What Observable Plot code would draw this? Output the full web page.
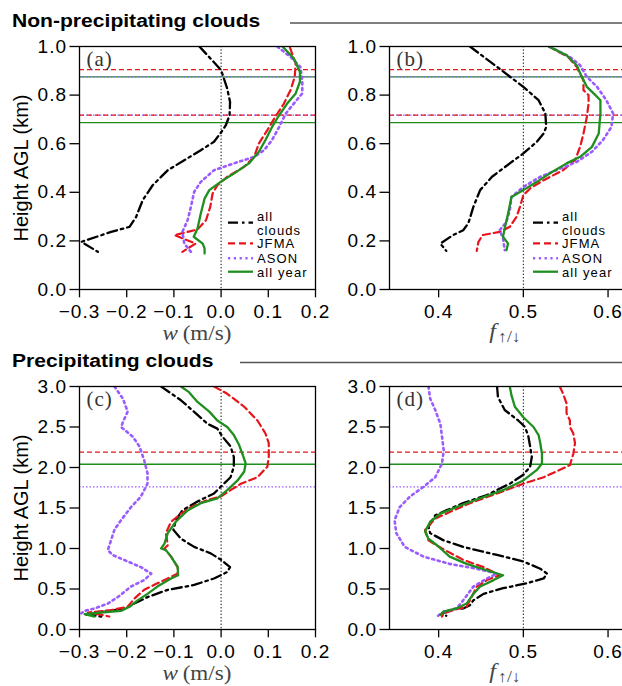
<!DOCTYPE html>
<html><head><meta charset="utf-8">
<script src="https://cdn.jsdelivr.net/npm/d3@7"></script>
<script src="https://cdn.jsdelivr.net/npm/@observablehq/plot@0.6"></script>
<style>
body{margin:0;background:#fff;}
#root{position:relative;width:622px;height:686px;overflow:hidden;background:#fff;}
#root > svg{position:absolute;}
</style></head><body><div id="root"></div>
<script>
// ---------------- DATA ----------------
const seriesNames = ["all clouds", "JFMA", "ASON", "all year"];

// Non-precipitating, vertical velocity w (m/s) vs height (km): [w, h]
const a_all = [[-0.046,1.0],[0.0,0.903],[0.013,0.827],[0.019,0.772],[0.018,0.717],[0.010,0.676],[0.001,0.649],[-0.015,0.608],[-0.043,0.573],[-0.078,0.532],[-0.113,0.491],[-0.145,0.429],[-0.166,0.368],[-0.180,0.299],[-0.194,0.258],[-0.233,0.237],[-0.296,0.196],[-0.261,0.155]];
const a_jfma = [[0.146,0.995],[0.158,0.930],[0.156,0.875],[0.147,0.820],[0.133,0.765],[0.115,0.711],[0.098,0.656],[0.080,0.601],[0.070,0.546],[0.049,0.505],[0.013,0.464],[-0.008,0.429],[-0.018,0.395],[-0.023,0.340],[-0.032,0.285],[-0.050,0.247],[-0.099,0.224],[-0.054,0.189],[-0.082,0.155]];
const a_ason = [[0.119,1.0],[0.147,0.957],[0.168,0.916],[0.172,0.861],[0.172,0.807],[0.154,0.765],[0.137,0.724],[0.123,0.669],[0.108,0.615],[0.091,0.573],[0.070,0.546],[0.027,0.519],[-0.015,0.491],[-0.043,0.443],[-0.057,0.402],[-0.064,0.340],[-0.071,0.285],[-0.082,0.237],[-0.078,0.189],[-0.064,0.155]];
const a_year = [[0.130,1.0],[0.154,0.951],[0.167,0.896],[0.167,0.855],[0.158,0.807],[0.140,0.765],[0.123,0.717],[0.108,0.669],[0.094,0.615],[0.080,0.567],[0.059,0.519],[0.027,0.477],[-0.001,0.443],[-0.025,0.409],[-0.035,0.374],[-0.043,0.313],[-0.050,0.251],[-0.058,0.217],[-0.039,0.189],[-0.035,0.169],[-0.035,0.148]];

// Non-precipitating, fraction f up/down vs height (km): [f, h]
const b_all = [[0.437,1.0],[0.469,0.916],[0.500,0.834],[0.518,0.779],[0.526,0.724],[0.527,0.669],[0.524,0.642],[0.516,0.608],[0.500,0.560],[0.484,0.519],[0.463,0.464],[0.449,0.409],[0.441,0.340],[0.435,0.272],[0.429,0.244],[0.417,0.224],[0.402,0.189],[0.409,0.159]];
const b_jfma = [[0.530,1.0],[0.553,0.957],[0.563,0.916],[0.571,0.861],[0.571,0.820],[0.577,0.800],[0.577,0.765],[0.575,0.711],[0.571,0.642],[0.567,0.587],[0.561,0.532],[0.547,0.491],[0.524,0.450],[0.508,0.416],[0.500,0.388],[0.496,0.340],[0.492,0.299],[0.484,0.258],[0.472,0.237],[0.452,0.224],[0.447,0.196],[0.445,0.159]];
const b_ason = [[0.531,1.0],[0.555,0.957],[0.567,0.923],[0.575,0.875],[0.587,0.834],[0.598,0.779],[0.606,0.724],[0.604,0.669],[0.594,0.615],[0.581,0.567],[0.563,0.525],[0.539,0.491],[0.520,0.464],[0.500,0.422],[0.486,0.381],[0.484,0.326],[0.480,0.278],[0.472,0.244],[0.476,0.210],[0.478,0.162]];
const b_year = [[0.530,1.0],[0.551,0.964],[0.563,0.923],[0.569,0.875],[0.575,0.834],[0.583,0.807],[0.591,0.779],[0.591,0.724],[0.589,0.642],[0.581,0.587],[0.567,0.546],[0.551,0.519],[0.531,0.477],[0.516,0.443],[0.500,0.409],[0.486,0.381],[0.482,0.313],[0.478,0.251],[0.476,0.217],[0.482,0.189],[0.480,0.162]];

// Precipitating, w (m/s) vs height (km)
const c_all = [[-0.127,3.0],[-0.085,2.83],[-0.050,2.65],[-0.029,2.54],[-0.008,2.48],[0.003,2.38],[0.020,2.26],[0.027,2.13],[0.027,2.01],[0.020,1.88],[0.006,1.80],[-0.015,1.68],[-0.050,1.58],[-0.082,1.47],[-0.096,1.35],[-0.101,1.23],[-0.085,1.12],[-0.057,1.02],[-0.022,0.94],[0.0,0.86],[0.019,0.77],[0.013,0.71],[-0.015,0.63],[-0.057,0.55],[-0.113,0.49],[-0.156,0.40],[-0.184,0.32],[-0.205,0.26],[-0.247,0.22],[-0.289,0.19],[-0.254,0.16]];
const c_jfma = [[-0.015,3.0],[0.013,2.91],[0.049,2.75],[0.077,2.58],[0.094,2.42],[0.101,2.30],[0.101,2.13],[0.098,2.01],[0.077,1.88],[0.042,1.80],[0.020,1.72],[-0.001,1.64],[-0.029,1.60],[-0.064,1.51],[-0.085,1.43],[-0.106,1.33],[-0.117,1.19],[-0.113,1.04],[-0.120,1.00],[-0.106,0.90],[-0.092,0.77],[-0.092,0.69],[-0.106,0.65],[-0.135,0.57],[-0.163,0.49],[-0.184,0.38],[-0.198,0.28],[-0.233,0.24],[-0.282,0.21],[-0.261,0.19],[-0.237,0.16]];
const c_ason = [[-0.226,3.0],[-0.208,2.85],[-0.198,2.69],[-0.208,2.56],[-0.212,2.50],[-0.187,2.38],[-0.173,2.26],[-0.163,2.09],[-0.156,1.93],[-0.156,1.80],[-0.170,1.64],[-0.191,1.51],[-0.212,1.35],[-0.226,1.23],[-0.240,0.98],[-0.230,0.92],[-0.198,0.84],[-0.170,0.77],[-0.148,0.69],[-0.163,0.61],[-0.191,0.53],[-0.219,0.40],[-0.240,0.32],[-0.268,0.26],[-0.289,0.23],[-0.296,0.20]];
const c_year = [[-0.085,3.0],[-0.068,2.93],[-0.050,2.81],[-0.025,2.69],[-0.008,2.58],[0.013,2.50],[0.027,2.40],[0.038,2.28],[0.045,2.17],[0.052,2.05],[0.049,1.95],[0.035,1.84],[0.013,1.72],[-0.008,1.62],[-0.043,1.56],[-0.071,1.47],[-0.096,1.33],[-0.113,1.19],[-0.120,1.06],[-0.127,1.00],[-0.117,0.98],[-0.106,0.90],[-0.092,0.77],[-0.091,0.67],[-0.106,0.63],[-0.135,0.53],[-0.156,0.44],[-0.177,0.36],[-0.194,0.28],[-0.212,0.23],[-0.254,0.21],[-0.289,0.19],[-0.268,0.16]];

// Precipitating, f up/down vs height (km)
const d_all = [[0.469,3.0],[0.470,2.87],[0.478,2.71],[0.494,2.58],[0.502,2.50],[0.506,2.38],[0.508,2.26],[0.510,2.13],[0.508,2.01],[0.500,1.91],[0.484,1.80],[0.457,1.66],[0.429,1.56],[0.409,1.47],[0.396,1.41],[0.388,1.27],[0.390,1.19],[0.406,1.10],[0.429,1.02],[0.469,0.92],[0.500,0.84],[0.520,0.75],[0.528,0.69],[0.524,0.63],[0.504,0.57],[0.476,0.51],[0.453,0.44],[0.441,0.36],[0.437,0.30],[0.429,0.26],[0.417,0.25],[0.404,0.20],[0.409,0.17]];
const d_jfma = [[0.543,3.0],[0.547,2.91],[0.551,2.79],[0.551,2.67],[0.555,2.58],[0.555,2.50],[0.559,2.42],[0.561,2.30],[0.559,2.17],[0.555,2.03],[0.547,1.99],[0.524,1.88],[0.500,1.80],[0.469,1.68],[0.437,1.56],[0.413,1.45],[0.396,1.37],[0.384,1.23],[0.388,1.10],[0.404,1.00],[0.429,0.86],[0.453,0.77],[0.472,0.67],[0.457,0.61],[0.445,0.53],[0.437,0.36],[0.433,0.28],[0.421,0.25],[0.406,0.20],[0.404,0.16]];
const d_ason = [[0.388,3.0],[0.390,2.85],[0.396,2.71],[0.402,2.54],[0.404,2.38],[0.406,2.21],[0.404,2.05],[0.396,1.88],[0.382,1.76],[0.366,1.64],[0.354,1.51],[0.348,1.35],[0.350,1.19],[0.360,1.02],[0.382,0.90],[0.413,0.81],[0.445,0.75],[0.469,0.69],[0.457,0.63],[0.441,0.53],[0.429,0.36],[0.421,0.26],[0.406,0.22],[0.398,0.16]];
const d_year = [[0.484,3.0],[0.486,2.89],[0.490,2.75],[0.500,2.62],[0.512,2.50],[0.518,2.40],[0.520,2.30],[0.522,2.17],[0.522,2.05],[0.516,1.97],[0.500,1.84],[0.476,1.72],[0.449,1.62],[0.421,1.51],[0.402,1.43],[0.390,1.33],[0.384,1.21],[0.388,1.12],[0.398,1.04],[0.413,0.90],[0.433,0.81],[0.457,0.73],[0.476,0.67],[0.465,0.61],[0.449,0.53],[0.441,0.44],[0.433,0.32],[0.421,0.26],[0.406,0.22],[0.402,0.18]];

// Reference heights (km) per season
const np_jfmaLevels = [0.905, 0.718];
const np_asonLevels = [0.875, 0.718];
const np_yearLevels = [0.875, 0.687];
const p_jfmaLevels = [2.19];
const p_asonLevels = [1.76];
const p_yearLevels = [2.04];

// Tick values
const wTicks = [-0.3, -0.2, -0.1, 0.0, 0.1, 0.2];
const fTicks = [0.4, 0.5, 0.6];
const hTicksNP = [0, 0.2, 0.4, 0.6, 0.8, 1.0];
const hTicksP = [0, 0.5, 1.0, 1.5, 2.0, 2.5, 3.0];

// ---------------- STYLES ----------------
const colors = ["#000000", "#e8141c", "#9b5cff", "#1f8f1f"];
const dashes = ["10,4,2.5,4", "7,4", "2.2,3.6", null];
const widths = [2.3, 2.2, 2.6, 2.3];
const sansFont = "'Liberation Sans', Arial, sans-serif";
const serifFont = "'Liberation Serif', 'DejaVu Serif', serif";

const root = d3.select("#root");

function panel({series, xDomain, xTicks, xRef, yDomain, yTicks, jfma, ason, year, letter, left, top}) {
  const fmt = d3.format(".1f");
  const toObj = arr => arr.map(([x, h]) => ({x, h}));
  const marks = [
    Plot.ruleX([xRef], {stroke: "black", strokeWidth: 1, strokeDasharray: "1.3,2"}),
    Plot.ruleY(year, {stroke: colors[3], strokeWidth: 1.3}),
    Plot.ruleY(ason, {stroke: colors[2], strokeWidth: 1.3, strokeDasharray: "1.5,2"}),
    Plot.ruleY(jfma, {stroke: colors[1], strokeWidth: 1.3, strokeDasharray: "5,3"}),
  ];
  series.forEach((s, i) => {
    const o = {x: "x", y: "h", stroke: colors[i], strokeWidth: widths[i], strokeLinejoin: "round", clip: true};
    if (dashes[i]) o.strokeDasharray = dashes[i];
    marks.push(Plot.line(toObj(s), o));
  });
  marks.push(
    Plot.frame({stroke: "black", strokeWidth: 1.3}),
    Plot.axisX({ticks: xTicks, tickFormat: fmt, tickSize: 8.3, tickPadding: 7, label: null, strokeWidth: 1.3}),
    Plot.axisY({ticks: yTicks, tickFormat: fmt, tickSize: 9.5, tickPadding: 3, label: null, strokeWidth: 1.3}),
    Plot.text([letter], {frameAnchor: "top-left", dx: 7, dy: 5, lineAnchor: "top", textAnchor: "start",
      fontFamily: serifFont, fontSize: 21, fill: "#333", text: d => d})
  );
  const svg = Plot.plot({
    width: 316, height: 345,
    marginLeft: 79, marginRight: 1, marginTop: 46, marginBottom: 56,
    x: {domain: xDomain},
    y: {domain: yDomain},
    style: {background: "none", overflow: "visible", fontFamily: sansFont, fontSize: "19px", letterSpacing: "1px", color: "black"},
    marks
  });
  svg.style.position = "absolute";
  svg.style.left = left + "px";
  svg.style.top = top + "px";
  root.node().appendChild(svg);
}

panel({series: [a_all, a_jfma, a_ason, a_year], xDomain: [-0.3, 0.2], xTicks: wTicks, xRef: 0,
  yDomain: [0, 1], yTicks: hTicksNP, jfma: np_jfmaLevels, ason: np_asonLevels, year: np_yearLevels, letter: "(a)", left: 0, top: 0});
panel({series: [b_all, b_jfma, b_ason, b_year], xDomain: [0.342, 0.6206], xTicks: fTicks, xRef: 0.5,
  yDomain: [0, 1], yTicks: hTicksNP, jfma: np_jfmaLevels, ason: np_asonLevels, year: np_yearLevels, letter: "(b)", left: 310, top: 0});
panel({series: [c_all, c_jfma, c_ason, c_year], xDomain: [-0.3, 0.2], xTicks: wTicks, xRef: 0,
  yDomain: [0, 3], yTicks: hTicksP, jfma: p_jfmaLevels, ason: p_asonLevels, year: p_yearLevels, letter: "(c)", left: 0, top: 340});
panel({series: [d_all, d_jfma, d_ason, d_year], xDomain: [0.342, 0.6206], xTicks: fTicks, xRef: 0.5,
  yDomain: [0, 3], yTicks: hTicksP, jfma: p_jfmaLevels, ason: p_asonLevels, year: p_yearLevels, letter: "(d)", left: 310, top: 340});

// ---------------- OVERLAY: titles, axis labels, legends ----------------
const ov = root.append("svg").attr("width", 622).attr("height", 686)
  .style("left", "0px").style("top", "0px").style("pointer-events", "none");

function title(txt, y, lineStart) {
  ov.append("text").attr("transform", `translate(12,${y}) scale(1.11,1)`)
    .attr("font-family", sansFont).attr("font-weight", "bold").attr("font-size", 19).text(txt);
  ov.append("line").attr("x1", lineStart).attr("x2", 622).attr("y1", y - 4.3).attr("y2", y - 4.3)
    .attr("stroke", "#555").attr("stroke-width", 1.5);
}
title("Non-precipitating clouds", 27.3, 290);
title("Precipitating clouds", 366.7, 240);

[168, 508].forEach(cy => {
  ov.append("text").attr("transform", `translate(28,${cy}) rotate(-90)`).attr("text-anchor", "middle")
    .attr("font-family", sansFont).attr("font-size", 20).text("Height AGL (km)");
});

function wLabel(cx, y) {
  const t = ov.append("text").attr("transform", `translate(${cx},${y}) scale(1.1,1)`).attr("text-anchor", "middle")
    .attr("font-family", serifFont).attr("font-size", 21).attr("fill", "#444");
  t.append("tspan").attr("font-style", "italic").text("w");
  t.append("tspan").text("\u2009(m/s)");
}
function fLabel(cx, y) {
  const t = ov.append("text").attr("transform", `translate(${cx},${y}) scale(1.1,1)`).attr("text-anchor", "middle")
    .attr("font-family", serifFont).attr("font-size", 22).attr("fill", "#444");
  t.append("tspan").attr("font-style", "italic").text("f");
  t.append("tspan").attr("font-size", 16).attr("dy", 4).attr("dx", 2).text("\u2191/\u2193");
}
wLabel(197, 340); fLabel(505, 338);
wLabel(197, 680); fLabel(505, 678);

function legend(dx) {
  const lineY = [222.7, 243.3, 258.3, 271.7];
  const g = ov.append("g").attr("transform", `translate(${dx},0)`);
  seriesNames.forEach((name, i) => {
    const ln = g.append("line").attr("x1", 228).attr("x2", 253).attr("y1", lineY[i]).attr("y2", lineY[i])
      .attr("stroke", colors[i]).attr("stroke-width", widths[i]);
    if (dashes[i]) ln.attr("stroke-dasharray", dashes[i]);
  });
  const rows = [["all", 221], ["clouds", 234.5], ["JFMA", 248], ["ASON", 262.5], ["all year", 276.5]];
  rows.forEach(([txt, y]) => {
    g.append("text").attr("x", 257).attr("y", y).attr("font-family", sansFont).attr("font-size", 13)
      .attr("letter-spacing", "1.1px").text(txt);
  });
}
legend(0);
legend(305);
</script></body></html>
